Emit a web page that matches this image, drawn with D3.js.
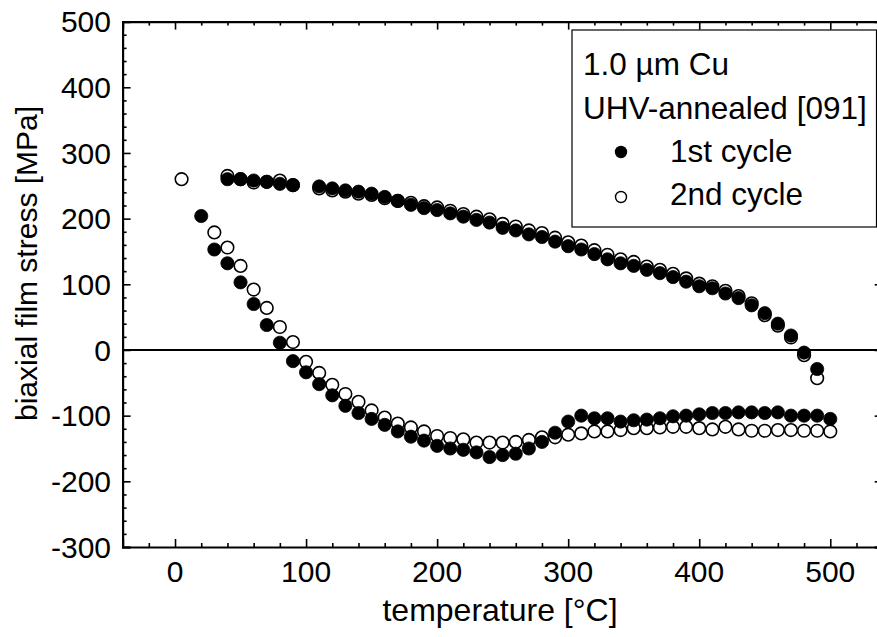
<!DOCTYPE html>
<html>
<head>
<meta charset="utf-8">
<script src="https://cdn.jsdelivr.net/npm/d3@7"></script>
<style>
  html, body { margin: 0; padding: 0; background: #fff; }
  svg { display: block; font-family: "Liberation Sans", Arial, Helvetica, sans-serif; }
</style>
</head>
<body>
<svg id="chart" width="877" height="637"></svg>
<script>
// Biaxial film stress of a 1.0 µm Cu film during two thermal cycles

// 1st cycle, heating branch
const cycle1HeatTemp = [40, 50, 60, 70, 80, 90, 110, 120, 130, 140, 150, 160, 170, 180, 190, 200,
  210, 220, 230, 240, 250, 260, 270, 280, 290, 300, 310, 320, 330, 340, 350, 360, 370, 380, 390,
  400, 410, 420, 430, 440, 450, 460, 470, 480, 490];
const cycle1HeatStress = [260, 260, 258, 256, 253, 251, 249, 246, 243, 241, 238, 233, 227, 221, 216, 213,
  208, 203, 198, 194, 186, 182, 176, 172, 165, 158, 153, 146, 138, 132, 128, 122, 117, 111, 104,
  97, 94, 86, 79, 68, 56, 40, 22, -4, -29];

// 1st cycle, cooling branch
const cycle1CoolTemp = [500, 490, 480, 470, 460, 450, 440, 430, 420, 410, 400, 390, 380, 370, 360,
  350, 340, 330, 320, 310, 300, 290, 280, 270, 260, 250, 240, 230, 220, 210, 200, 190, 180, 170,
  160, 150, 140, 130, 120, 110, 100, 90, 80, 70, 60, 50, 40, 30, 20];
const cycle1CoolStress = [-105, -100, -100, -100, -95, -96, -95, -95, -96, -96, -98, -100, -101, -104, -106,
  -107, -109, -104, -104, -100, -109, -126, -140, -150, -158, -160, -163, -156, -152, -150, -146, -138, -132, -124,
  -114, -105, -96, -85, -69, -52, -34, -17, 11, 38, 70, 103, 132, 153, 204];

// 2nd cycle, heating branch
const cycle2HeatTemp = [5, 40, 50, 60, 70, 80, 90, 110, 120, 130, 140, 150, 160, 170, 180, 190, 200,
  210, 220, 230, 240, 250, 260, 270, 280, 290, 300, 310, 320, 330, 340, 350, 360, 370, 380, 390,
  400, 410, 420, 430, 440, 450, 460, 470, 480, 490];
const cycle2HeatStress = [260, 265, 260, 255, 256, 258, 251, 246, 243, 241, 238, 236, 231, 227, 224, 219, 217,
  212, 207, 203, 199, 192, 188, 182, 178, 171, 164, 159, 152, 145, 138, 134, 127, 122, 116, 109,
  101, 97, 90, 82, 71, 53, 37, 19, -8, -43];

// 2nd cycle, cooling branch
const cycle2CoolTemp = [500, 490, 480, 470, 460, 450, 440, 430, 420, 410, 400, 390, 380, 370, 360,
  350, 340, 330, 320, 310, 300, 290, 280, 270, 260, 250, 240, 230, 220, 210, 200, 190, 180, 170,
  160, 150, 140, 130, 120, 110, 100, 90, 80, 70, 60, 50, 40, 30];
const cycle2CoolStress = [-124, -123, -123, -122, -122, -123, -123, -121, -117, -121, -119, -117, -117, -118, -119,
  -119, -122, -124, -124, -127, -129, -133, -133, -137, -140, -141, -141, -141, -136, -134, -131, -124, -118, -112,
  -103, -92, -79, -67, -53, -35, -18, 12, 35, 64, 92, 128, 156, 179];

// Axis ticks
const xMajorTicks = [0, 100, 200, 300, 400, 500];
const yMajorTicks = [-300, -200, -100, 0, 100, 200, 300, 400, 500];

// Legend text
const legendTitle = ["1.0 µm Cu", "UHV-annealed [091]"];
const seriesNames = ["1st cycle", "2nd cycle"];

const svg = d3.select("#chart");
const x = d3.scaleLinear().domain([-40, 540]).range([122.6, 882.7]);
const y = d3.scaleLinear().domain([-300, 500]).range([547, 21.6]);

const zip = (t, s) => t.map((v, i) => ({ t: v, s: s[i] }));
const cycle1 = zip(cycle1HeatTemp, cycle1HeatStress).concat(zip(cycle1CoolTemp, cycle1CoolStress));
const cycle2 = zip(cycle2HeatTemp, cycle2HeatStress).concat(zip(cycle2CoolTemp, cycle2CoolStress));

const xMinor = d3.range(-20, 540, 20).filter(v => v % 100 !== 0);
const yMinor = d3.range(-280, 500, 20).filter(v => v % 100 !== 0);

// Zero-stress reference line
svg.append("line")
  .attr("x1", x(-40)).attr("x2", x(540))
  .attr("y1", y(0)).attr("y2", y(0))
  .attr("stroke", "#000").attr("stroke-width", 2);

// Axes with inward ticks on all four sides
function frameAxis(axisFn, scale, transform, major, minor) {
  const g = svg.append("g").attr("transform", transform);
  g.call(axisFn(scale).tickValues(major).tickSize(8).tickFormat(""));
  const gm = svg.append("g").attr("transform", transform);
  gm.call(axisFn(scale).tickValues(minor).tickSize(4).tickFormat(""));
  gm.select(".domain").remove();
  [g, gm].forEach(a => {
    a.selectAll(".tick line").attr("stroke", "#000").attr("stroke-width", 1.6);
  });
  g.select(".domain").attr("stroke", "#000").attr("stroke-width", 2.2);
  return g;
}

// bottom (ticks point up)
frameAxis(s => d3.axisTop(s), x, `translate(0,${y(-300)})`, xMajorTicks, xMinor);
// top (ticks point down)
frameAxis(s => d3.axisBottom(s), x, `translate(0,${y(500)})`, xMajorTicks, xMinor);
// left (ticks point right)
frameAxis(s => d3.axisRight(s), y, `translate(${x(-40)},0)`, yMajorTicks, yMinor);
// right (ticks point left)
frameAxis(s => d3.axisLeft(s), y, `translate(${x(540)},0)`, yMajorTicks, yMinor);

// Tick labels
svg.append("g").selectAll("text").data(xMajorTicks).join("text")
  .attr("x", d => x(d)).attr("y", 582)
  .attr("text-anchor", "middle").attr("font-size", 30)
  .text(d => d);
svg.append("g").selectAll("text").data(yMajorTicks).join("text")
  .attr("x", 111).attr("y", d => y(d)).attr("dy", "0.36em")
  .attr("text-anchor", "end").attr("font-size", 30)
  .text(d => d);

// Axis titles
svg.append("text")
  .attr("x", 500).attr("y", 621)
  .attr("text-anchor", "middle").attr("font-size", 32)
  .text("temperature [°C]");
svg.append("text")
  .attr("transform", "translate(37,421) rotate(-90)")
  .attr("text-anchor", "start").attr("font-size", 30)
  .text("biaxial film stress [MPa]");

// Data markers: 2nd cycle (open) beneath 1st cycle (filled)
svg.append("g").selectAll("circle").data(cycle2).join("circle")
  .attr("cx", d => x(d.t)).attr("cy", d => y(d.s)).attr("r", 6.3)
  .attr("fill", "#fff").attr("stroke", "#000").attr("stroke-width", 1.6);
svg.append("g").selectAll("circle").data(cycle1).join("circle")
  .attr("cx", d => x(d.t)).attr("cy", d => y(d.s)).attr("r", 6.6)
  .attr("fill", "#000").attr("stroke", "#000").attr("stroke-width", 0.8);

// Legend
const lg = svg.append("g");
lg.append("rect")
  .attr("x", 572).attr("y", 30).attr("width", 304.5).attr("height", 197)
  .attr("fill", "#fff").attr("stroke", "#000").attr("stroke-width", 1.2);
lg.selectAll("text.title").data(legendTitle).join("text")
  .attr("class", "title")
  .attr("x", 583).attr("y", (d, i) => 75 + i * 44)
  .attr("font-size", 31.5)
  .text(d => d);
lg.selectAll("text.series").data(seriesNames).join("text")
  .attr("class", "series")
  .attr("x", 670).attr("y", (d, i) => 162 + i * 43)
  .attr("font-size", 31.5)
  .text(d => d);
lg.append("circle").attr("cx", 621).attr("cy", 152).attr("r", 6.2).attr("fill", "#000");
lg.append("circle").attr("cx", 621).attr("cy", 197).attr("r", 5.5)
  .attr("fill", "#fff").attr("stroke", "#000").attr("stroke-width", 1.4);
</script>
</body>
</html>
